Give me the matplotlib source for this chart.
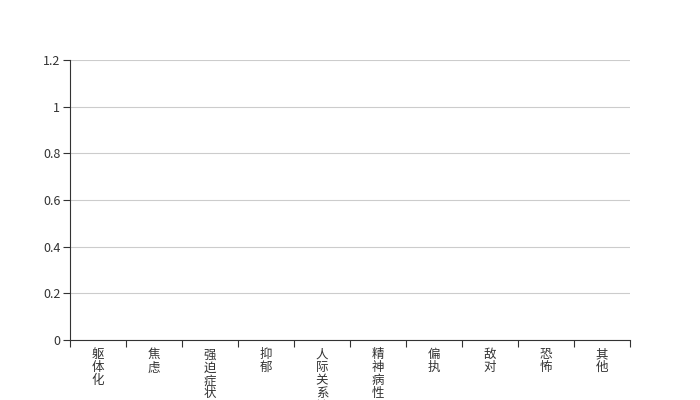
import numpy as np
import matplotlib
matplotlib.use("Agg")
import matplotlib.pyplot as plt

plt.rcParams['font.family'] = ['Noto Sans CJK SC', 'DejaVu Sans']

categories = ['躯体化', '焦虑', '强迫症状', '抑郁', '人际关系敏感',
              '精神病性', '偏执', '敌对', '恐怖', '其他']
values = [0, 0, 0, 0, 0, 0, 0, 0, 0, 0]
y_ticks = [0, 0.2, 0.4, 0.6, 0.8, 1, 1.2]
y_tick_labels = ['0', '0.2', '0.4', '0.6', '0.8', '1', '1.2']

fig = plt.figure(figsize=(7, 4), dpi=100)
ax = fig.add_axes([70 / 700, 60 / 400, 560 / 700, 280 / 400])

x = np.arange(len(categories))
ax.bar(x, values, width=0.6, color='#5b9bd5')

ax.set_xlim(-0.5, len(categories) - 0.5)
ax.set_ylim(0, 1.2)

# y axis
ax.set_yticks(y_ticks)
ax.set_yticklabels(y_tick_labels, fontsize=9, color='#333333')
ax.yaxis.grid(True, color='#cccccc', linewidth=0.8)
ax.set_axisbelow(True)
ax.tick_params(axis='y', length=5, width=0.8, color='#333333', pad=2)

# x axis: ticks between bands, vertical labels in the middle
ax.set_xticks(np.arange(len(categories) + 1) - 0.5)
ax.set_xticklabels([])
ax.tick_params(axis='x', which='major', length=5, width=0.8, color='#333333')
ax.set_xticks(x, minor=True)
ax.set_xticklabels(['\n'.join(c) for c in categories], minor=True,
                   fontsize=9, color='#333333', linespacing=1.0, va='top')
ax.tick_params(axis='x', which='minor', length=0, pad=6)

for side in ['top', 'right']:
    ax.spines[side].set_visible(False)
for side in ['left', 'bottom']:
    ax.spines[side].set_color('#333333')
    ax.spines[side].set_linewidth(0.8)

fig.savefig('out.png', dpi=100)
